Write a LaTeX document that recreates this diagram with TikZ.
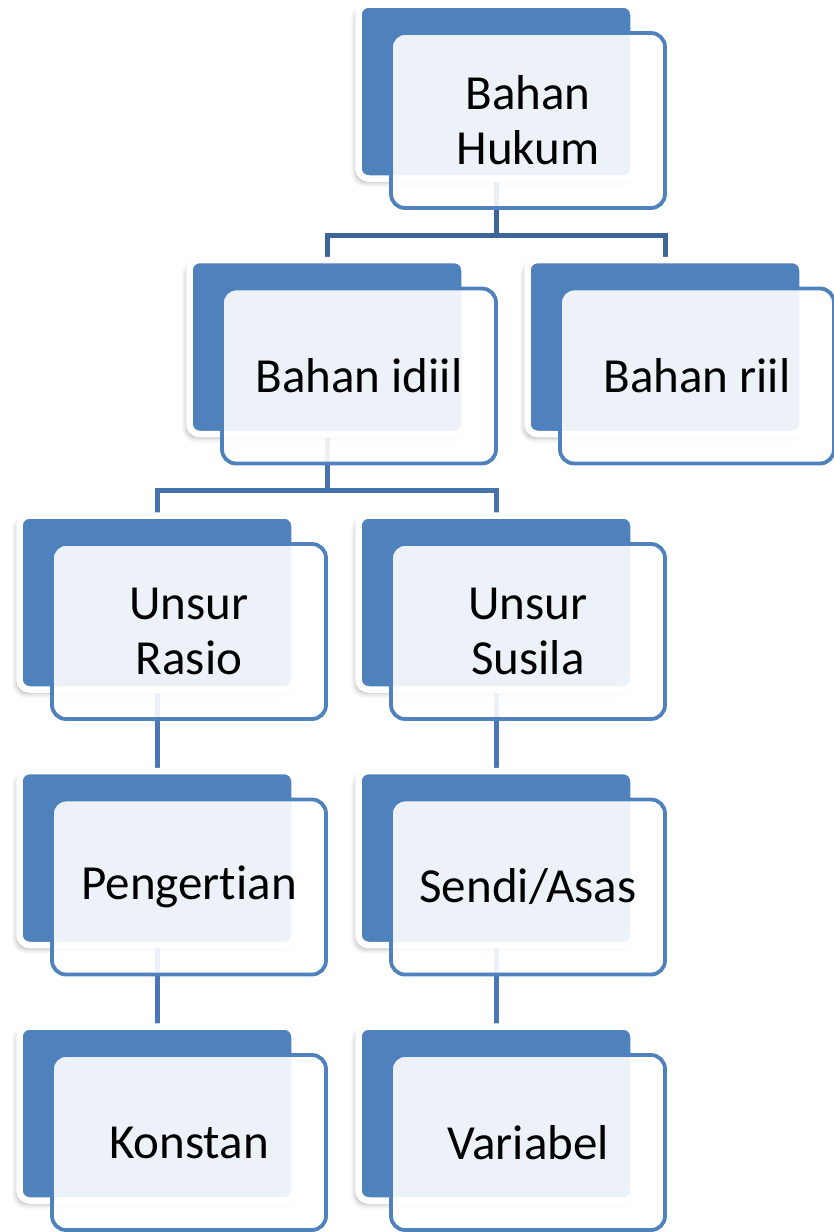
\documentclass[tikz,border=0pt]{standalone}
\usepackage{fontspec}
\setmainfont[Ligatures=NoCommon]{Carlito}
\usetikzlibrary{shadows.blur}
\definecolor{boxblue}{HTML}{4F81BD}
\definecolor{lineA}{HTML}{3D6598}
\definecolor{lineB}{HTML}{4773AC}
\definecolor{lineC}{HTML}{4A78B4}
\pgfdeclarelayer{bg}
\pgfsetlayers{bg,main}
\begin{document}
\begin{tikzpicture}[x=1pt,y=-1pt,
  backbox/.style={rectangle, rounded corners=10pt, fill=boxblue, draw=white, line width=6.5pt,
    minimum width=275pt, minimum height=174pt, inner sep=0pt, outer sep=0pt,
    blur shadow={shadow xshift=-3pt, shadow yshift=-4pt, shadow blur radius=5pt, shadow opacity=30}},
  frontbox/.style={rectangle, rounded corners=14pt, fill=white, fill opacity=0.9, text opacity=1,
    draw=boxblue, draw opacity=1, line width=3.8pt,
    minimum width=274pt, minimum height=175pt, inner sep=0pt, outer sep=0pt,
    align=center, font=\fontsize{49}{55}\selectfont},
  conn/.style={line width=5pt}
]
\useasboundingbox (0,0) rectangle (833,1232);
% back boxes
\node[backbox] (hukB) at (496,91.5) {};
\node[backbox] (idiilB) at (327,347) {};
\node[backbox] (riilB) at (665,347) {};
\node[backbox] (rasioB) at (157,602.5) {};
\node[backbox] (susilaB) at (496,602.5) {};
\node[backbox] (pengB) at (157,858) {};
\node[backbox] (sendiB) at (496,858) {};
\node[backbox] (konsB) at (157,1113.5) {};
\node[backbox] (varB) at (496,1113.5) {};
% front boxes
\node[frontbox] (hukF) at (528,120.5) {Bahan\\Hukum};
\node[frontbox] (idiilF) at (359,376) {Bahan idiil};
\node[frontbox] (riilF) at (697,376) {Bahan riil};
\node[frontbox] (rasioF) at (189,631.5) {Unsur\\Rasio};
\node[frontbox] (susilaF) at (528,631.5) {Unsur\\Susila};
\node[frontbox] (pengF) at (189,887) {Pengert\kern0pt ian};
\node[frontbox] (sendiF) at (528,887) {Sendi/Asas};
\node[frontbox] (konsF) at (189,1142.5) {Konstan};
\node[frontbox] (varF) at (528,1142.5) {Variabel};
% connectors
\coordinate (j1) at (496,235);
\coordinate (j2) at (327,490.5);
\begin{pgfonlayer}{bg}
\draw[conn, draw=lineA] (hukB.center) -- (j1) -| (idiilB.center);
\draw[conn, draw=lineA] (j1) -| (riilB.center);
\draw[conn, draw=lineB] (idiilB.center) -- (j2) -| (rasioB.center);
\draw[conn, draw=lineB] (j2) -| (susilaB.center);
\draw[conn, draw=lineC] (rasioB.center) -- (pengB.center);
\draw[conn, draw=lineC] (pengB.center) -- (konsB.center);
\draw[conn, draw=lineC] (susilaB.center) -- (sendiB.center);
\draw[conn, draw=lineC] (sendiB.center) -- (varB.center);
\end{pgfonlayer}
\end{tikzpicture}
\end{document}
